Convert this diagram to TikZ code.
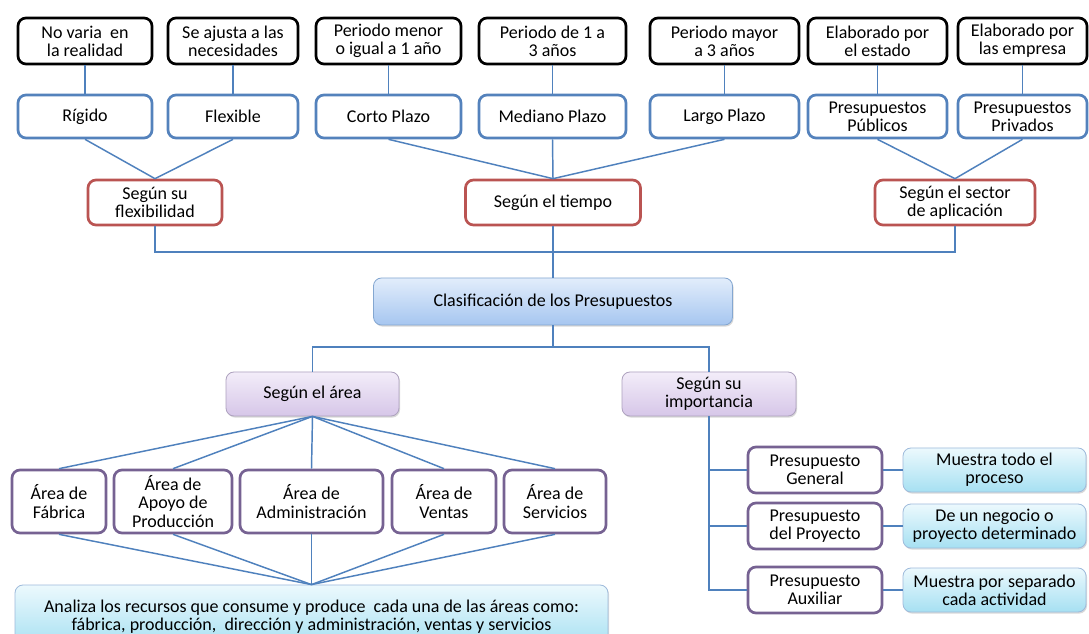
\documentclass[tikz,border=0pt]{standalone}
\usepackage{fontspec}
\setmainfont{Carlito}
\usetikzlibrary{shadows}
\definecolor{lineblue}{RGB}{79,129,189}
\definecolor{boxblue}{RGB}{84,130,188}
\definecolor{boxred}{RGB}{186,84,82}
\definecolor{boxpurple}{RGB}{118,98,146}
\definecolor{clastop}{RGB}{226,237,251}
\definecolor{clasbot}{RGB}{166,198,240}
\definecolor{lilatop}{RGB}{243,237,249}
\definecolor{lilabot}{RGB}{214,198,232}
\definecolor{cyantop}{RGB}{236,249,253}
\definecolor{cyanbot}{RGB}{166,224,242}

\begin{document}
\begin{tikzpicture}[x=0.75pt, y=-0.75pt,
	box/.style={rounded corners=6pt, align=center, inner sep=1pt, fill=white,
		font=\fontsize{13.5}{13.6}\selectfont},
	blackbox/.style={box, draw=black, line width=2pt, minimum height=34.5pt},
	bluebox/.style={box, draw=boxblue, line width=2pt, minimum height=32.25pt},
	redbox/.style={box, draw=boxred, line width=2pt, minimum height=33.75pt},
	purplebox/.style={box, draw=boxpurple, line width=2pt},
	shadedbox/.style={box, line width=0.6pt,
		drop shadow={opacity=0.3, shadow xshift=0.8pt, shadow yshift=-1.2pt}},
	clasbox/.style={shadedbox, draw=lineblue!70, top color=clastop, bottom color=clasbot},
	lilabox/.style={shadedbox, draw=boxpurple!60, top color=lilatop, bottom color=lilabot, minimum height=33pt},
	cyanbox/.style={shadedbox, draw=lineblue!55, top color=cyantop, bottom color=cyanbot},
	conn/.style={draw=lineblue, line width=1.1pt}
	]
	\fill[white] (0,0) rectangle (1089,634);
	\useasboundingbox (0,0) rectangle (1089,634);

	% descripciones (fila superior)
	\node[blackbox, minimum width=100.5pt] (d1) at (85,41) {No varia~ en\\la realidad};
	\node[blackbox, minimum width=97.5pt] (d2) at (233,41) {Se ajusta a las\\necesidades};
	\node[blackbox, minimum width=108.75pt] (d3) at (388.5,41) {Periodo menor\\o igual a 1 año};
	\node[blackbox, minimum width=110.25pt] (d4) at (552.5,41) {Periodo de 1 a\\3 años};
	\node[blackbox, minimum width=111.75pt] (d5) at (724.5,41) {Periodo mayor\\a 3 años};
	\node[blackbox, minimum width=104.25pt] (d6) at (877.5,41) {Elaborado por\\el estado};
	\node[blackbox, minimum width=96.75pt] (d7) at (1022.5,41) {Elaborado por\\las empresa};

	% tipos
	\node[bluebox, minimum width=100.5pt] (rig) at (85,116.5) {Rígido};
	\node[bluebox, minimum width=97.5pt] (flx) at (233,116.5) {Flexible};
	\node[bluebox, minimum width=108.75pt] (corto) at (388.5,116.5) {Corto Plazo};
	\node[bluebox, minimum width=110.25pt] (medio) at (552.5,116.5) {Mediano Plazo};
	\node[bluebox, minimum width=111.75pt] (largo) at (724.5,116.5) {Largo Plazo};
	\node[bluebox, minimum width=104.25pt] (pub) at (877.5,116.5) {Presupuestos\\Públicos};
	\node[bluebox, minimum width=96.75pt] (priv) at (1022.5,116.5) {Presupuestos\\Privados};

	% criterios
	\node[redbox, minimum width=100.5pt] (flex) at (155,202.5) {Según su\\flexibilidad};
	\node[redbox, minimum width=131.25pt] (tiempo) at (553,202.5) {Según el tiempo};
	\node[redbox, minimum width=120pt] (sector) at (955,202.5) {Según el sector\\de aplicación};

	\node[clasbox, minimum width=269.25pt, minimum height=35.25pt] (clas) at (553,301.5) {Clasificación de los Presupuestos};

	\node[lilabox, minimum width=129.75pt] (area) at (312.5,394) {Según el área};
	\node[lilabox, minimum width=130.5pt] (imp) at (709,394) {Según su\\importancia};

	% areas
	\node[purplebox, minimum width=70.5pt, minimum height=47.25pt] (a1) at (59,501.5) {Área de\\Fábrica};
	\node[purplebox, minimum width=88.5pt, minimum height=47.25pt] (a2) at (173,501.5) {Área de\\Apoyo de\\Producción};
	\node[purplebox, minimum width=107.25pt, minimum height=47.25pt] (a3) at (311.5,501.5) {Área de\\Administración};
	\node[purplebox, minimum width=78pt, minimum height=47.25pt] (a4) at (444,501.5) {Área de\\Ventas};
	\node[purplebox, minimum width=76.5pt, minimum height=47.25pt] (a5) at (555,501.5) {Área de\\Servicios};
	\node[cyanbox, minimum width=444.75pt, minimum height=47.25pt] (analiza) at (311.5,616.5)
		{Analiza los recursos que consume y produce~ cada una de las áreas como:\\fábrica, producción,~ dirección y administración, ventas y servicios};

	% importancia
	\node[purplebox, minimum width=100.5pt, minimum height=34.5pt] (p1) at (815,470) {Presupuesto\\General};
	\node[purplebox, minimum width=100.5pt, minimum height=34.5pt] (p2) at (815,526) {Presupuesto\\del Proyecto};
	\node[purplebox, minimum width=100.5pt, minimum height=34.5pt] (p3) at (815,590) {Presupuesto\\Auxiliar};
	\node[cyanbox, minimum width=137.25pt, minimum height=33pt] (m1) at (994.5,470) {Muestra todo el\\proceso};
	\node[cyanbox, minimum width=137.25pt, minimum height=33pt] (m2) at (994.5,526) {De un negocio o\\proyecto determinado};
	\node[cyanbox, minimum width=137.25pt, minimum height=33pt] (m3) at (994.5,590) {Muestra por separado\\cada actividad};

	\coordinate (topbar) at (553,252);
	\coordinate (lowbar) at (553,347);

	% conectores
	\path[conn] (d1) -- (rig) (d2) -- (flx) (d3) -- (corto) (d4) -- (medio)
		(d5) -- (largo) (d6) -- (pub) (d7) -- (priv);
	\path[conn] (rig.south) -- (flex.north) (flx.south) -- (flex.north);
	\path[conn] (corto.south) -- (tiempo.north) (medio.south) -- (tiempo.north)
		(largo.south) -- (tiempo.north);
	\path[conn] (pub.south) -- (sector.north) (priv.south) -- (sector.north);
	\path[conn] (flex.south) |- (topbar) -| (sector.south);
	\path[conn] (tiempo.south) -- (clas.north);
	\path[conn] (area.north) |- (lowbar) -| (imp.north);
	\path[conn] (clas.south) -- (lowbar);
	\foreach \a in {a1,a2,a3,a4,a5}{
		\path[conn] (area.south) -- (\a.north);
		\path[conn] (\a.south) -- (analiza.north);
	}
	\foreach \p/\m in {p1/m1,p2/m2,p3/m3}{
		\path[conn] (imp.south) |- (\p.west);
		\path[conn] (\p.east) -- (\m.west);
	}
\end{tikzpicture}
\end{document}
